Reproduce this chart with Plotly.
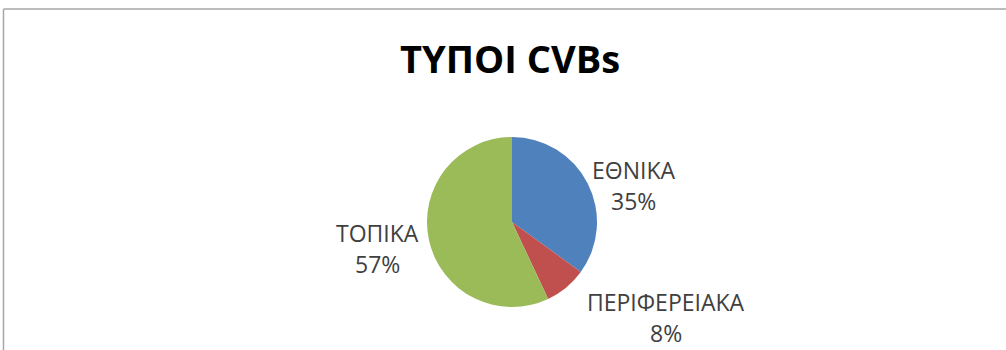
import plotly.graph_objects as go

# CVB types and their shares (%)
categories = ["ΕΘΝΙΚΑ", "ΠΕΡΙΦΕΡΕΙΑΚΑ", "ΤΟΠΙΚΑ"]
shares = [35, 8, 57]
colors = ["#4F81BD", "#C0504D", "#9BBB59"]
title_text = "ΤΥΠΟΙ CVBs"

W, H = 1006, 350
FONT = "Open Sans"

# pie box in pixels (left, top, right, bottom)
px_l, px_t, px_r, px_b = 427, 137, 597, 307

fig = go.Figure(go.Pie(
    labels=categories,
    values=shares,
    marker=dict(colors=colors, line=dict(width=0)),
    sort=False,
    direction="clockwise",
    rotation=0,
    textinfo="none",
    hoverinfo="label+percent",
    domain=dict(x=[px_l / W, px_r / W], y=[1 - px_b / H, 1 - px_t / H]),
    showlegend=False,
))

# data labels: category name over percentage, placed beside each slice
# (x centre, y of first line) in pixels
label_pos = {"ΕΘΝΙΚΑ": (633, 170), "ΠΕΡΙΦΕΡΕΙΑΚΑ": (666, 302), "ΤΟΠΙΚΑ": (377, 233)}
line_gap = 31
annotations = []
for cat, val in zip(categories, shares):
    x, y = label_pos[cat]
    for i, txt in enumerate([cat, f"{val}%"]):
        annotations.append(dict(
            x=x / W, y=1 - (y + i * line_gap) / H, xref="paper", yref="paper",
            text=txt, showarrow=False, align="center",
            font=dict(family=FONT, size=23, color="#404040"),
            xanchor="center", yanchor="middle",
        ))

annotations.append(dict(
    x=510 / W, y=1 - 58 / H, xref="paper", yref="paper",
    text=f"<b>{title_text}</b>", showarrow=False,
    font=dict(family=FONT, size=38, color="#000000"),
    xanchor="center", yanchor="middle",
))

fig.update_layout(
    width=W, height=H,
    margin=dict(l=0, r=0, t=0, b=0),
    paper_bgcolor="#ffffff",
    plot_bgcolor="#ffffff",
    annotations=annotations,
    shapes=[
        dict(type="line", xref="paper", yref="paper",
             x0=3.5 / W, x1=1, y0=1 - 9 / H, y1=1 - 9 / H,
             line=dict(color="#a6a6a6", width=1.5)),
        dict(type="line", xref="paper", yref="paper",
             x0=3.5 / W, x1=3.5 / W, y0=0, y1=1 - 9 / H,
             line=dict(color="#a6a6a6", width=1.5)),
    ],
)

fig.write_html("out.html")
